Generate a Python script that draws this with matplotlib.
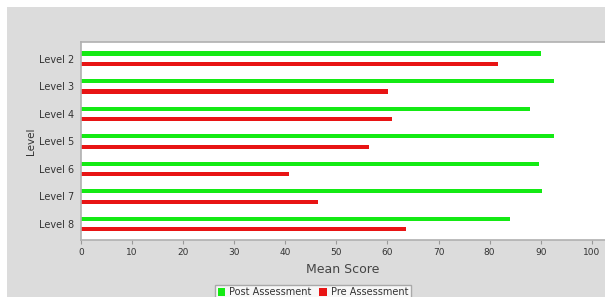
import matplotlib
matplotlib.use('Agg')
import matplotlib.pyplot as plt
from matplotlib.patches import Rectangle, Patch
import numpy as np

levels = ['Level 2', 'Level 3', 'Level 4', 'Level 5', 'Level 6', 'Level 7', 'Level 8']
post_scores = [90.0, 92.6, 87.9, 92.6, 89.7, 90.3, 84.0]
pre_scores = [81.7, 60.1, 60.8, 56.3, 40.7, 46.5, 63.6]
x_ticks = [0, 10, 20, 30, 40, 50, 60, 70, 80, 90, 100]

green = '#14ea14'
red = '#e81414'

fig = plt.figure(figsize=(6.05, 2.97), dpi=100, facecolor='white')
# grey panel behind the chart
fig.patches.append(Rectangle((7 / 605, 0), 1, 1 - 7 / 297, transform=fig.transFigure,
                             facecolor='#dcdcdc', edgecolor='none', zorder=-10))

ax = fig.add_axes([81 / 605, 1 - 240 / 297, 1 - 81 / 605, (240 - 41.7) / 297])
ax.set_facecolor('white')

y = np.arange(len(levels))
ax.barh(y - 0.19, post_scores, height=0.15, color=green)
ax.barh(y + 0.19, pre_scores, height=0.15, color=red)

ax.set_ylim(len(levels) - 0.42, -0.62)
ax.set_xlim(0, 102.6)
ax.set_yticks(y)
ax.set_yticklabels(levels, fontsize=7, color='#333333')
ax.set_xticks(x_ticks)
ax.set_xticklabels([str(t) for t in x_ticks], fontsize=6.5, color='#333333')
ax.tick_params(axis='y', length=0, pad=5)
ax.tick_params(axis='x', length=3, color='#999999', pad=3)

for side in ['top', 'left', 'bottom']:
    ax.spines[side].set_color('#b0b0b0')
    ax.spines[side].set_linewidth(1.2)
ax.spines['right'].set_visible(False)

ax.set_xlabel('Mean Score', fontsize=9, color='#444444', labelpad=4)
ax.set_ylabel('Level', fontsize=7.5, color='#333333', labelpad=2)

handles = [Patch(facecolor=green, edgecolor='none'), Patch(facecolor=red, edgecolor='none')]
leg = fig.legend(handles, ['Post Assessment', 'Pre Assessment'], loc='upper center',
                 bbox_to_anchor=(313 / 605, 1 - 285 / 297), ncol=2, fontsize=7,
                 frameon=True, fancybox=False, edgecolor='#999999', facecolor='white',
                 handlelength=0.8, handleheight=0.8, handletextpad=0.4, columnspacing=0.8,
                 borderpad=0.25, borderaxespad=0)
leg.get_frame().set_linewidth(1)
for t in leg.get_texts():
    t.set_color('#333333')

fig.savefig('out.png', dpi=100, facecolor=fig.get_facecolor())
